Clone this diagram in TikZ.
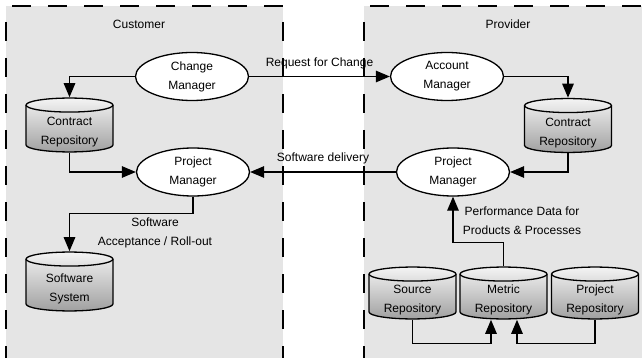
\documentclass[tikz,border=0pt]{standalone}
\usepackage{fontspec}
\setmainfont{Liberation Sans}
\usetikzlibrary{arrows.meta,shapes.geometric,positioning}

\newcommand{\repostrut}{\rule{0pt}{22.6pt}}

\tikzset{
  role/.style={ellipse, draw, fill=white, line width=1.3pt, minimum width=113pt, minimum height=48pt, align=center, inner sep=0pt},
  repo/.style={rectangle, minimum width=88.2pt, minimum height=55.2pt, inner sep=0pt, align=center,
    path picture={
      \path[draw, line width=1.3pt, top color=gray!8, bottom color=gray!75]
        ([shift={(0.65pt,-7.65pt)}]path picture bounding box.north west)
        -- ([shift={(0.65pt,7.65pt)}]path picture bounding box.south west)
        arc[start angle=180, end angle=360, x radius=43.45pt, y radius=7pt]
        -- ([shift={(-0.65pt,-7.65pt)}]path picture bounding box.north east)
        arc[start angle=0, end angle=180, x radius=43.45pt, y radius=7pt] -- cycle;
      \draw[line width=1.3pt] ([shift={(0.65pt,-7.65pt)}]path picture bounding box.north west)
        arc[start angle=180, end angle=360, x radius=43.45pt, y radius=7pt];
    }},
  flow/.style={line width=1.3pt, -{Triangle[length=14pt,width=11.5pt]}},
  zone/.style={fill=gray!20},
  zoneline/.style={line width=1.9pt, dash pattern=on 19pt off 17pt, dash phase=30pt}
}

\begin{document}
\begin{tikzpicture}[x=1pt, y=-1pt, every node/.style={font=\fontsize{12}{19}\selectfont}]
        \useasboundingbox (0,0) rectangle (642,358);
        % Customer and Provider areas
        \fill[zone] (6,6) rectangle (283,358);
        \fill[zone] (364,6) rectangle (642,358);
        \draw[zoneline] (6,6) -- (283,6);
        \draw[zoneline] (364,6) -- (642,6);
        \foreach \x in {6,283,364} {
            \draw[zoneline, dash phase=20pt] (\x,6) -- (\x,358);
        }
        \node (custLbl) at (139,24) {Customer};
        \node (provLbl) at (508,24) {Provider};

        % Roles
        \node[role] (chgMgr) at (192,76.5) {Change\\Manager};
        \node[role] (accMgr) at (447,76.5) {Account\\Manager};
        \node[role] (custPM) at (193,172) {Project\\Manager};
        \node[role] (provPM) at (453,172) {Project\\Manager};

        % Repositories
        \node[repo] (custContract) at (69.5,125) {\repostrut Contract\\Repository};
        \node[repo] (provContract) at (568,125.5) {\repostrut Contract\\Repository};
        \node[repo, minimum height=60.2pt] (swSystem) at (69.5,281.5) {\repostrut Software\\System};
        \foreach \name/\x/\txt in {srcRepo/412.5/Source, metricRepo/503.5/Metric, projRepo/595/Project} {
            \node[repo, minimum height=53.2pt] (\name) at (\x,293) {\repostrut\txt\\Repository};
        }

        % Flows
        \draw[flow] (chgMgr.west) -| (custContract.north);
        \draw[flow] (custContract.south) |- (custPM.west);
        \draw[flow] (chgMgr.east) -- node[above=4pt, midway] (rfcLbl) {Request for Change} (accMgr.west);
        \draw[flow] (accMgr.east) -| (provContract.north);
        \draw[flow] (provContract.south) |- (provPM.east);
        \draw[flow] (provPM.west) -- node[above=4pt, midway] (delivLbl) {Software delivery} (custPM.east);
        \draw[flow] (custPM.south) -- ++(0,17) -| (swSystem.north);
        \node[align=center] (rollLbl) at (155,233) {Software\\Acceptance / Roll-out};
        \draw[flow] (metricRepo.north) -- ++(0,-24) -| (provPM.south);
        \node[align=center] (perfLbl) at (522,221) {Performance Data for\\Products \& Processes};
        \draw[flow] (srcRepo.south) -- ++(0,24) -| ([xshift=-12.5pt]metricRepo.south);
        \draw[flow] (projRepo.south) -- ++(0,24) -| ([xshift=13.5pt]metricRepo.south);
    \end{tikzpicture}
\end{document}
